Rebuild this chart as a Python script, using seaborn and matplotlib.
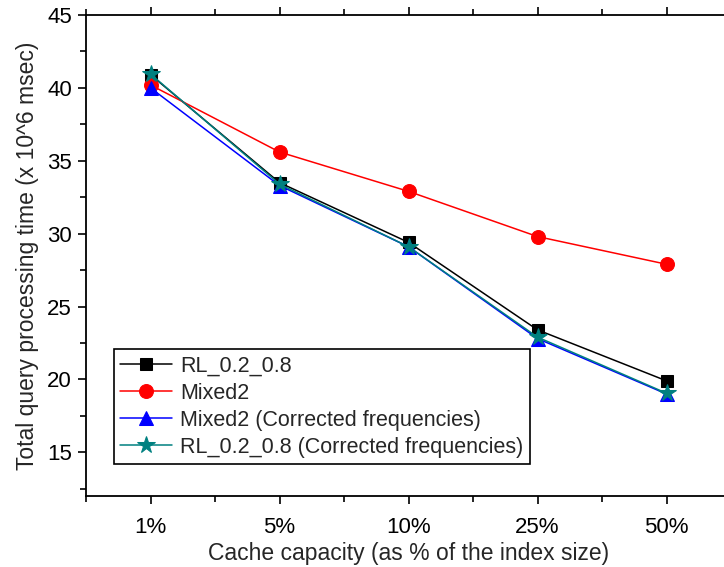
import matplotlib
matplotlib.use("Agg")
import matplotlib.pyplot as plt
import seaborn as sns
import pandas as pd
from matplotlib.ticker import MultipleLocator

categories = ["1%", "5%", "10%", "25%", "50%"]
rl = [40.9, 33.5, 29.4, 23.4, 19.9]
mixed2 = [40.2, 35.6, 32.9, 29.8, 27.9]
mixed2_corr = [40.0, 33.3, 29.1, 22.8, 19.0]
rl_corr = [40.95, 33.4, 29.1, 22.9, 19.05]

names = ["RL_0.2_0.8", "Mixed2", "Mixed2 (Corrected frequencies)",
         "RL_0.2_0.8 (Corrected frequencies)"]
series = [rl, mixed2, mixed2_corr, rl_corr]
colors = ["black", "#ff0000", "#0000ff", "#008080"]
markers = ["s", "o", "^", "*"]
msizes = [8, 10, 10, 13]

rows = []
for n, vals in zip(names, series):
    for c, v in zip(categories, vals):
        rows.append({"cap": c, "time": v, "series": n})
df = pd.DataFrame(rows)

sns.set_style("ticks")
plt.rcParams["font.family"] = ["Liberation Sans", "DejaVu Sans"]

fig = plt.figure(figsize=(7.24, 5.67), dpi=100)
ax = fig.add_axes([86 / 724, 71 / 567, 645 / 724, 481 / 567])

for n, col, m, ms in zip(names, colors, markers, msizes):
    sub = df[df["series"] == n]
    sns.lineplot(data=sub, x="cap", y="time", ax=ax, color=col, marker=m,
                 markersize=ms, markeredgecolor=col, linewidth=1.1,
                 label=n, sort=False)

ax.set_xlim(-0.5, 4.5)
ax.set_ylim(12, 45)
ax.yaxis.set_major_locator(MultipleLocator(5))
ax.yaxis.set_minor_locator(MultipleLocator(2.5))
ax.xaxis.set_minor_locator(MultipleLocator(0.5))
ax.set_xticks(range(len(categories)))
ax.set_xticklabels(categories)

for s in ax.spines.values():
    s.set_linewidth(1.3)
    s.set_color("black")

ax.tick_params(axis="both", which="both", direction="out", labelsize=16,
               width=1.2, colors="black")
ax.tick_params(which="major", length=6)
ax.tick_params(which="minor", length=4)
ax.tick_params(axis="x", top=True, which="both")
ax.tick_params(axis="x", which="both", pad=9)
ax.tick_params(axis="y", which="both", pad=4)

ax.set_xlabel("Cache capacity (as % of the index size)", fontsize=16.5, labelpad=3)
ax.set_ylabel("Total query processing time (x 10^6 msec)", fontsize=16.5, labelpad=6)

leg = ax.legend(loc="lower left", bbox_to_anchor=(0.043, 0.066), borderaxespad=0,
                fontsize=15.5, frameon=True, fancybox=False, handlelength=2.4,
                labelspacing=0.28, borderpad=0.3, handletextpad=0.4)
leg.get_frame().set_edgecolor("black")
leg.get_frame().set_linewidth(1.2)
leg.get_frame().set_alpha(1)

fig.savefig("out.png", dpi=100)
